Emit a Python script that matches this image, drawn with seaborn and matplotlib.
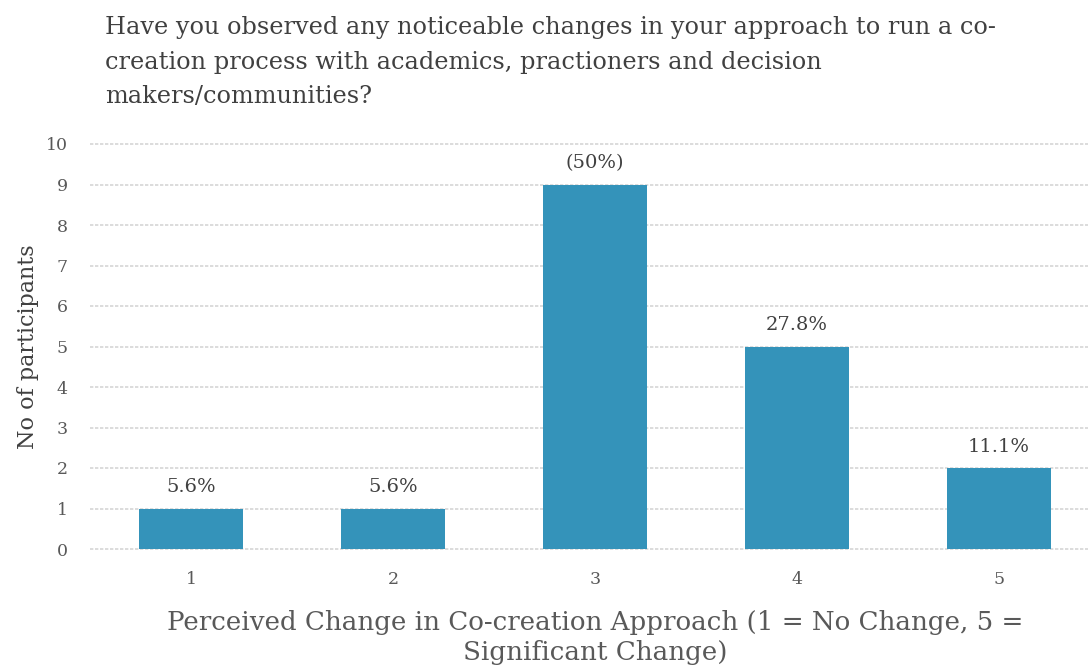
import matplotlib
matplotlib.use("Agg")
import matplotlib.pyplot as plt
import seaborn as sns
import pandas as pd

# Survey responses: perceived change on a 1-5 scale
categories = ["1", "2", "3", "4", "5"]
participants = [1, 1, 9, 5, 2]
share_labels = ["5.6%", "5.6%", "(50%)", "27.8%", "11.1%"]

df = pd.DataFrame({"score": categories, "count": participants})

sns.set_theme(style="white")
plt.rcParams["font.family"] = ["DejaVu Serif"]

W, H = 1088, 667
fig = plt.figure(figsize=(W / 100, H / 100), dpi=100)
ax = fig.add_axes([90 / W, 1 - 549 / H, 1010 / W, (549 - 144) / H])

sns.barplot(data=df, x="score", y="count", color="#3493BA", width=0.51,
            saturation=1, edgecolor="none", linewidth=0, ax=ax, zorder=3)

ax.set_ylim(0, 10)
ax.set_yticks(range(0, 11))
ax.yaxis.grid(True, color="#d6d6d6", linewidth=1.2, linestyle=(0, (2, 1)), zorder=0)
for gl in ax.get_ygridlines():
    gl.set_clip_on(False)
ax.set_axisbelow(True)
ax.xaxis.grid(False)
for s in ax.spines.values():
    s.set_visible(False)
ax.tick_params(axis="both", length=0, labelsize=12.5, labelcolor="#595959")
ax.tick_params(axis="y", pad=16)
ax.tick_params(axis="x", pad=16)

for patch, lab in zip(ax.patches, share_labels):
    ax.annotate(lab, (patch.get_x() + patch.get_width() / 2, patch.get_height()),
                xytext=(0, 9), textcoords="offset points", ha="center", va="bottom",
                fontsize=14, color="#404040")

ax.set_ylabel("No of participants", fontsize=16, color="#404040", labelpad=5)
ax.set_xlabel("Perceived Change in Co-creation Approach (1 = No Change, 5 =\nSignificant Change)",
              fontsize=18.8, color="#595959", labelpad=16, linespacing=1.25)

fig.text(105 / W, 1 - 16 / H,
         "Have you observed any noticeable changes in your approach to run a co-\n"
         "creation process with academics, practioners and decision\n"
         "makers/communities?",
         ha="left", va="top", fontsize=17.3, color="#404040", linespacing=1.65)

fig.savefig("out.png", dpi=100)
